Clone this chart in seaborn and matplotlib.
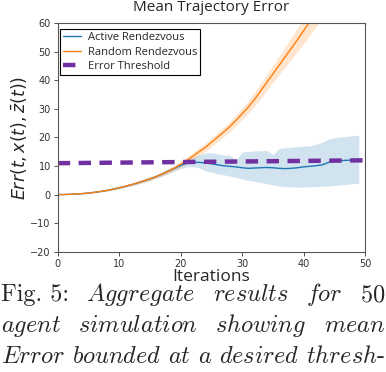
import numpy as np
import pandas as pd
import matplotlib
matplotlib.use("Agg")
import matplotlib.pyplot as plt
import seaborn as sns
from matplotlib.lines import Line2D

# -----------------------------
# 1. Data
# -----------------------------
iterations = list(range(50))

active_mean = [0.0, 0.02, 0.1, 0.2, 0.35, 0.55, 0.8, 1.1, 1.45, 1.9,
               2.4, 2.9, 3.5, 4.1, 4.8, 5.5, 6.3, 7.2, 8.2, 9.2,
               10.2, 11.0, 11.3, 11.3, 11.1, 10.8, 10.4, 10.1, 9.9, 9.7,
               9.4, 9.2, 9.3, 9.4, 9.5, 9.4, 9.2, 9.1, 9.2, 9.4,
               9.7, 9.9, 10.1, 10.4, 11.2, 11.7, 11.9, 12.0, 12.1, 12.3]
active_low = [0.0, 0.0, 0.05, 0.12, 0.25, 0.42, 0.65, 0.92, 1.25, 1.65,
              2.1, 2.55, 3.1, 3.65, 4.3, 4.95, 5.7, 6.5, 7.4, 8.3,
              9.1, 9.7, 9.8, 9.4, 8.3, 7.9, 7.3, 6.9, 6.5, 6.0,
              5.5, 5.0, 4.6, 4.2, 3.8, 3.4, 3.0, 2.8, 2.7, 2.6,
              2.6, 2.7, 2.8, 2.9, 3.0, 3.2, 3.4, 3.6, 3.8, 3.9]
active_high = [0.0, 0.05, 0.15, 0.28, 0.45, 0.68, 0.95, 1.28, 1.65, 2.15,
               2.7, 3.25, 3.9, 4.55, 5.3, 6.05, 6.9, 7.9, 9.0, 10.1,
               11.3, 12.4, 13.2, 13.9, 14.5, 14.7, 14.3, 13.9, 13.8, 12.0,
               14.9, 15.1, 15.3, 15.4, 15.5, 14.0, 16.1, 16.4, 16.6, 16.8,
               17.0, 17.1, 17.6, 18.3, 19.4, 19.9, 20.2, 20.4, 20.6, 20.8]

random_mean = [0.0, 0.02, 0.1, 0.2, 0.35, 0.55, 0.8, 1.1, 1.45, 1.9,
               2.4, 2.9, 3.5, 4.1, 4.8, 5.5, 6.3, 7.2, 8.2, 9.3,
               10.6, 12.0, 13.5, 15.0, 16.5, 18.3, 20.1, 21.9, 23.8, 26.0,
               28.3, 30.6, 33.3, 36.2, 39.2, 42.2, 45.2, 48.2, 51.2, 54.2,
               57.3, 60.5, 63.7, 67.0, 70.3, 73.7, 77.1, 80.6, 84.1, 87.7]
random_spread = [0.0, 0.0, 0.02, 0.05, 0.08, 0.1, 0.13, 0.16, 0.2, 0.25,
                 0.3, 0.35, 0.4, 0.45, 0.5, 0.55, 0.6, 0.7, 0.8, 0.9,
                 1.0, 1.1, 1.2, 1.3, 1.4, 1.5, 1.6, 1.7, 1.8, 1.9,
                 2.0, 2.2, 2.4, 2.6, 2.8, 3.0, 3.2, 3.5, 3.8, 4.1,
                 4.4, 4.7, 5.0, 5.3, 5.6, 5.9, 6.2, 6.5, 6.8, 7.1]

threshold_x = [0, 50]
threshold_y = [11.0, 12.0]

caption_lines = [
    ["Fig. 5:", r"$\mathit{Aggregate}$", r"$\mathit{results}$",
     r"$\mathit{for}$", r"$\mathit{50}$"],
    [r"$\mathit{agent}$", r"$\mathit{simulation}$", r"$\mathit{showing}$",
     r"$\mathit{mean}$"],
    [r"$\mathit{Error}$", r"$\mathit{bounded}$", r"$\mathit{at}$",
     r"$\mathit{a}$", r"$\mathit{desired}$", r"$\mathit{thresh}$-"],
]

df = pd.DataFrame({
    "iteration": iterations,
    "active": active_mean,
    "random": random_mean,
})

# -----------------------------
# 2. Figure
# -----------------------------
sns.set_style("ticks")
plt.rcParams["font.family"] = ["DejaVu Sans"]

blue = "#1f77b4"
orange = "#ff7f0e"
purple = "#7030a0"

fig = plt.figure(figsize=(3.86, 3.72), dpi=100)
ax = fig.add_axes([0.1495, 0.3234, 0.796, 0.614])

sns.lineplot(data=df, x="iteration", y="active", color=blue, lw=1.0, ax=ax)
ax.fill_between(iterations, active_low, active_high, color=blue, alpha=0.2, lw=0)

rnd = np.array(random_mean)
spr = np.array(random_spread)
sns.lineplot(data=df, x="iteration", y="random", color=orange, lw=1.0, ax=ax)
ax.fill_between(iterations, rnd - spr, rnd + spr, color=orange, alpha=0.2, lw=0)

ax.plot(threshold_x, threshold_y, color=purple, lw=3.2, dashes=(2.8, 1.9))

ax.set_xlim(0, 50)
ax.set_ylim(-20, 60)
ax.set_xticks([0, 10, 20, 30, 40, 50])
ax.set_yticks([-20, -10, 0, 10, 20, 30, 40, 50, 60])
ax.tick_params(labelsize=7, colors="#333333", length=3, width=0.6, pad=2)
for s in ax.spines.values():
    s.set_color("#555555")
    s.set_linewidth(0.8)

ax.set_title("Mean Trajectory Error", fontsize=11, family="Open Sans", pad=9)
ax.set_xlabel("Iterations", fontsize=12.5, family="Open Sans", labelpad=0)
ax.set_ylabel(r"$Err(t,x(t),\bar{z}(t))$", fontsize=12.5, labelpad=1)
ax.yaxis.label.set_math_fontfamily("dejavusans")

handles = [
    Line2D([], [], color=blue, lw=1.0),
    Line2D([], [], color=orange, lw=1.0),
    Line2D([], [], color=purple, lw=3.2, dashes=(2.8, 1.9)),
]
leg = ax.legend(handles, ["Active Rendezvous", "Random Rendezvous", "Error Threshold"],
                loc="upper left", bbox_to_anchor=(0.0, 0.985), borderaxespad=0.2,
                prop={"family": "Open Sans", "size": 8},
                frameon=True, fancybox=False, framealpha=1, edgecolor="black",
                handlelength=1.6, handletextpad=0.6, borderpad=0.3, labelspacing=0.3)
leg.get_frame().set_linewidth(0.8)

# -----------------------------
# 3. Caption (justified lines)
# -----------------------------
renderer = fig.canvas.get_renderer()
baselines = [1 - 301 / 372, 1 - 332 / 372, 1 - 363 / 372]
x0, x1 = 1.0, 385.0
for words, yb in zip(caption_lines, baselines):
    texts = [fig.text(0, yb, w, fontsize=17.5, va="baseline", ha="left",
                      math_fontfamily="cm", family="cmr10") for w in words]
    widths = [t.get_window_extent(renderer).width for t in texts]
    gap = (x1 - x0 - sum(widths)) / (len(words) - 1)
    pos = x0
    for t, w in zip(texts, widths):
        t.set_x(pos / 386)
        pos += w + gap

fig.savefig("out.png", dpi=100)
